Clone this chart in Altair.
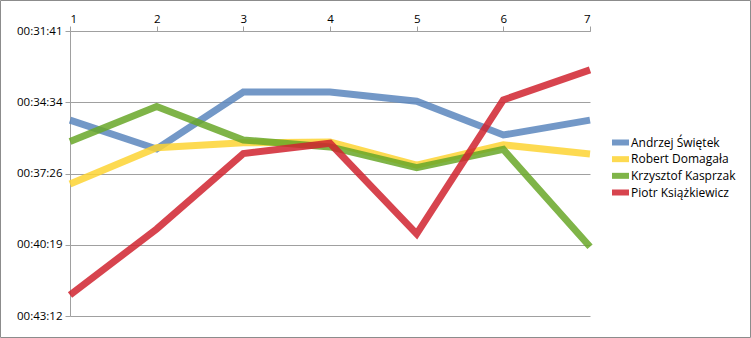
import altair as alt
import pandas as pd

races = [1, 2, 3, 4, 5, 6, 7]
names = ["Andrzej Świętek", "Robert Domagała", "Krzysztof Kasprzak", "Piotr Książkiewicz"]
colors = ["#5a86bd", "#fdd333", "#68a728", "#d0232f"]

# lap times (mm:ss)
andrzej = ["35:17", "36:27", "34:09", "34:09", "34:31", "35:53", "35:17"]
robert = ["37:52", "36:24", "36:12", "36:10", "37:06", "36:17", "36:39"]
krzysztof = ["36:09", "34:44", "36:05", "36:22", "37:12", "36:28", "40:24"]
piotr = ["42:21", "39:41", "36:38", "36:13", "39:53", "34:28", "33:15"]

tick_vals = [1900.8, 2073.6, 2246.4, 2419.2, 2592.0]


def secs(t):
    m, s = t.split(":")
    return int(m) * 60 + int(s)


rows = []
for i, (n, series) in enumerate(zip(names, [andrzej, robert, krzysztof, piotr])):
    for r, t in zip(races, series):
        rows.append({"race": r, "name": n, "sec": secs(t), "order": i})
df = pd.DataFrame(rows)
legend_df = pd.DataFrame({"name": names})

label_expr = (
    "'00:' + (floor(round(datum.value)/60) < 10 ? '0' : '') + floor(round(datum.value)/60)"
    " + ':' + (round(datum.value) % 60 < 10 ? '0' : '') + (round(datum.value) % 60)"
)

color_scale = alt.Scale(domain=names, range=colors)

lines = alt.Chart(df).mark_line(strokeWidth=7, opacity=0.85, strokeCap="butt", strokeJoin="miter").encode(
    x=alt.X("race:Q", scale=alt.Scale(domain=[1, 7], nice=False, zero=False),
            axis=alt.Axis(orient="top", values=races, format="d", title=None, grid=False,
                          domainColor="#a0a0a0", tickColor="#a0a0a0", tickSize=5,
                          labelFont="Open Sans", labelFontSize=11.5, labelColor="#000",
                          labelPadding=2)),
    y=alt.Y("sec:Q", scale=alt.Scale(domain=[1900.8, 2592.0], reverse=True, nice=False, zero=False),
            axis=alt.Axis(values=tick_vals, labelExpr=label_expr, title=None, grid=True,
                          gridColor="#a0a0a0", domainColor="#a0a0a0", tickColor="#a0a0a0",
                          tickSize=5, labelFont="Open Sans", labelFontSize=11.5, labelColor="#000",
                          labelPadding=3)),
    color=alt.Color("name:N", scale=color_scale, legend=None),
    order=alt.Order("order:Q"),
    detail="name:N",
)

legend_y = alt.Y("name:N", scale=alt.Scale(type="point", domain=names, range=[111.5, 161.5], padding=0),
                 axis=None)

legend_sym = alt.Chart(legend_df).mark_rule(strokeWidth=6, opacity=0.85).encode(
    x=alt.value(542), x2=alt.value(559), y=legend_y,
    color=alt.Color("name:N", scale=color_scale, legend=None),
)
legend_txt = alt.Chart(legend_df).mark_text(
    align="left", baseline="middle", font="Open Sans", fontSize=12, color="#000"
).encode(x=alt.value(561), y=legend_y, text="name:N")

border = alt.Chart(pd.DataFrame({"a": [0]})).mark_rect(
    fill=None, stroke="#8c8c8c", strokeWidth=1
).encode(x=alt.value(-69.5), x2=alt.value(680.5), y=alt.value(-30.5), y2=alt.value(306.5))

legend = alt.layer(legend_sym, legend_txt)

chart = alt.layer(lines, legend, border).resolve_scale(y="independent").properties(
    width=520, height=285,
    autosize=alt.AutoSizeParams(type="none"),
    padding={"left": 70, "top": 31, "right": 161, "bottom": 22},
).configure_view(stroke=None)

chart.save("out.html", embed_options={"renderer": "svg", "actions": False})
